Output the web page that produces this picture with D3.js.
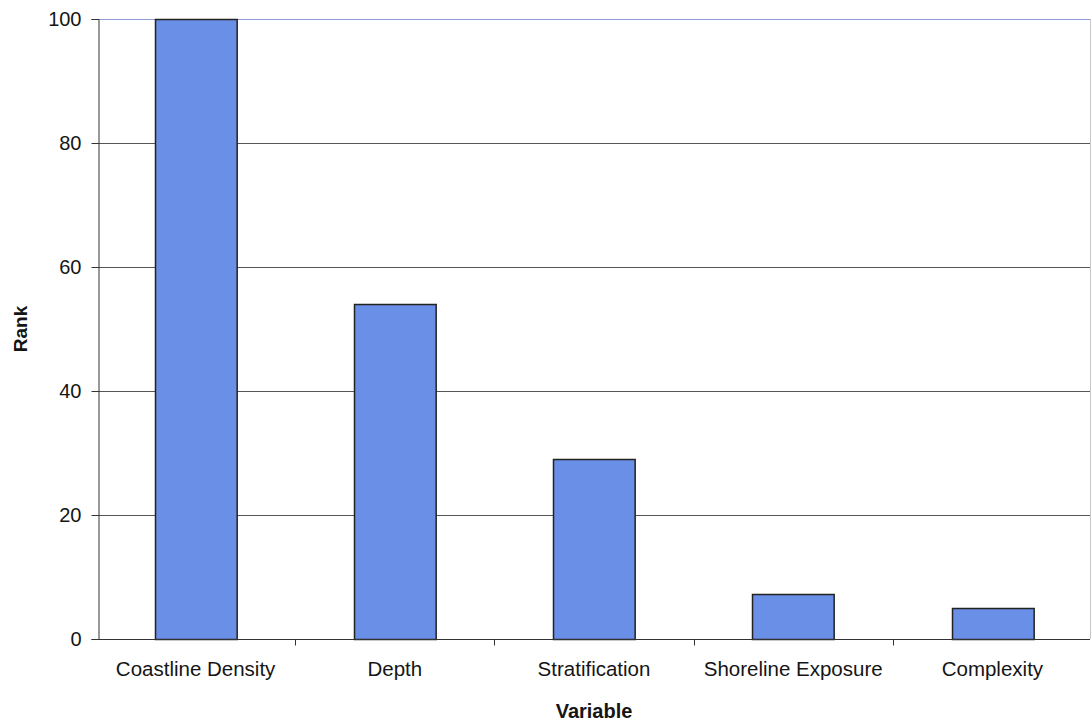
<!DOCTYPE html>
<html>
<head>
<meta charset="utf-8">
<script src="https://cdn.jsdelivr.net/npm/d3@7"></script>
<style>
  html, body { margin: 0; padding: 0; background: #fff; }
  svg { display: block; font-family: "Liberation Sans", Arial, sans-serif; }
</style>
</head>
<body>
<svg id="chart" width="1092" height="721"></svg>
<script>
// Variable ranking data
const categories = ["Coastline Density", "Depth", "Stratification", "Shoreline Exposure", "Complexity"];
const ranks = [100, 54, 29, 7.2, 5];
const yTicks = [0, 20, 40, 60, 80, 100];

const margin = { left: 98, right: 2, top: 19, bottom: 82 };
const W = 1092, H = 721;
const svg = d3.select("#chart");

const x = d3.scaleBand()
  .domain(categories)
  .range([margin.left, W - margin.right])
  .paddingInner(0.59)
  .paddingOuter(0.285);

const y = d3.scaleLinear()
  .domain([0, 100])
  .range([H - margin.bottom, margin.top]);

// Horizontal gridlines
svg.append("g")
  .selectAll("line")
  .data(yTicks.filter(d => d > 0))
  .join("line")
  .attr("x1", margin.left)
  .attr("x2", W - margin.right)
  .attr("y1", d => Math.round(y(d)) + 0.5)
  .attr("y2", d => Math.round(y(d)) + 0.5)
  .attr("stroke", d => d === 100 ? "#8e9ad6" : "#555")
  .attr("stroke-width", 1);

// Right plot border
svg.append("line")
  .attr("x1", W - margin.right + 0.5).attr("x2", W - margin.right + 0.5)
  .attr("y1", y(100)).attr("y2", y(0))
  .attr("stroke", "#c8c8c8");

// Bars
svg.append("g")
  .selectAll("rect")
  .data(categories.map((c, i) => ({ c, v: ranks[i] })))
  .join("rect")
  .attr("x", d => Math.round(x(d.c)) + 0.5)
  .attr("y", d => Math.round(y(d.v)) + 0.5)
  .attr("width", x.bandwidth())
  .attr("height", d => Math.round(y(0)) - Math.round(y(d.v)))
  .attr("fill", "#6a8fe6")
  .attr("stroke", "#222")
  .attr("stroke-width", 1.5);

// Y axis
const yAxis = svg.append("g")
  .attr("transform", `translate(${margin.left + 0.5},0)`)
  .call(d3.axisLeft(y).tickValues(yTicks).tickSize(7).tickPadding(10).tickFormat(d3.format("d")));
yAxis.select(".domain").attr("stroke", "#333");
yAxis.selectAll(".tick line").attr("stroke", "#333");
yAxis.selectAll("text")
  .attr("font-size", 20)
  .attr("fill", "#151515")
  .attr("font-family", "Liberation Sans, Arial, sans-serif");

// X axis with ticks at category boundaries
const xBase = Math.round(y(0)) + 0.5;
svg.append("line")
  .attr("x1", margin.left).attr("x2", W - margin.right)
  .attr("y1", xBase).attr("y2", xBase)
  .attr("stroke", "#333");

const step = x.step();
const boundaries = categories.slice(1).map(c => x(c) - step * x.paddingInner() / 2);
svg.append("g")
  .selectAll("line")
  .data(boundaries)
  .join("line")
  .attr("x1", d => Math.round(d) + 0.5)
  .attr("x2", d => Math.round(d) + 0.5)
  .attr("y1", xBase)
  .attr("y2", xBase + 6)
  .attr("stroke", "#333");

svg.append("g")
  .selectAll("text")
  .data(categories)
  .join("text")
  .attr("x", d => x(d) + x.bandwidth() / 2)
  .attr("y", 676)
  .attr("text-anchor", "middle")
  .attr("font-size", 20.5)
  .attr("fill", "#151515")
  .text(d => d);

// Axis titles
svg.append("text")
  .attr("x", (margin.left + W - margin.right) / 2)
  .attr("y", 718)
  .attr("text-anchor", "middle")
  .attr("font-size", 20)
  .attr("font-weight", "bold")
  .attr("fill", "#151515")
  .text("Variable");

svg.append("text")
  .attr("transform", `translate(27,${(y(0) + y(100)) / 2}) rotate(-90)`)
  .attr("text-anchor", "middle")
  .attr("font-size", 19)
  .attr("font-weight", "bold")
  .attr("fill", "#151515")
  .text("Rank");
</script>
</body>
</html>
